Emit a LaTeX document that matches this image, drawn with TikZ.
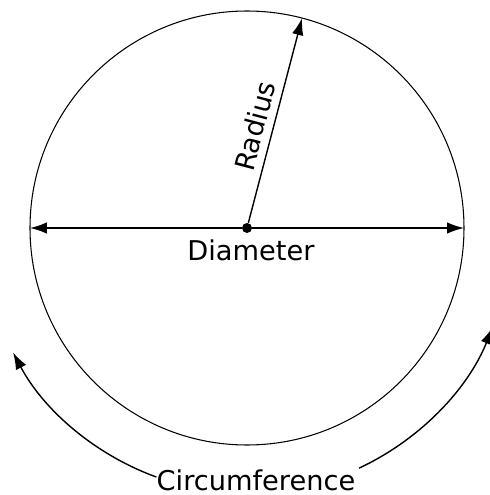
\documentclass[tikz,border=0pt]{standalone}
\usepackage{fontspec}
\setmainfont{DejaVu Sans}
\usetikzlibrary{arrows.meta}

\begin{document}
\begin{tikzpicture}
                \tikzstyle{label}=[font=\fontsize{15.5}{18}\selectfont,inner sep=1pt]
                \tikzstyle{measure}=[line width=0.8pt,-{Latex[length=3.4mm,width=2.3mm]}]
                \useasboundingbox (-4.94,-5.34) rectangle (4.84,4.56);
                \draw[line width=0.6pt] (0,0) circle (4.34);
                \node[circle,fill,inner sep=0pt,minimum size=0.2cm] (O) at (0,0) {};
                \coordinate (L) at (180:4.34);
                \coordinate (R) at (0:4.34);
                \coordinate (T) at (75.3:4.34);
                \draw[measure] (O) -- (L);
                \draw[measure] (O) -- (R);
                \draw[measure] (O) -- node[label,pos=0.45,sloped,above=3pt] (rad) {Radius} (T);
                \node[label] (dia) at (0.08,-0.45) {Diameter};
                \node[label] (circ) at (0.18,-5.04) {Circumference};
                \coordinate (c1) at (250:5.3);
                \coordinate (c2) at (-65:5.3);
                \draw[measure] (c1) arc[start angle=250,end angle=208,radius=5.3];
                \draw[measure] (c2) arc[start angle=-65,end angle=-22,radius=5.3];
            \end{tikzpicture}
\end{document}
